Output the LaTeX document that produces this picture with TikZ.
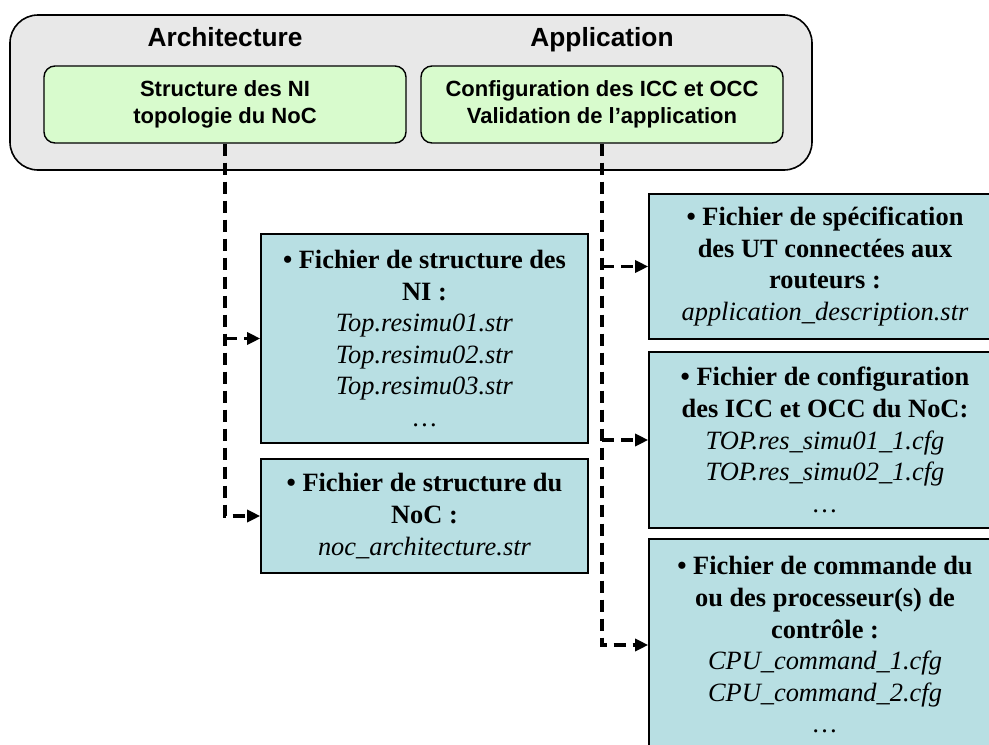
\documentclass[tikz,border=0pt]{standalone}
\usepackage{fontspec}
\setmainfont{Liberation Serif}
\setsansfont{Liberation Sans}
\usetikzlibrary{arrows.meta}
\definecolor{outergray}{RGB}{232,232,232}
\definecolor{greenfill}{RGB}{216,251,205}
\definecolor{bluefill}{RGB}{184,223,227}
\tikzset{
  outerbox/.style={draw=black, line width=1.6pt, fill=outergray, rounded corners=28pt},
  greenbox/.style={draw=black, line width=1.4pt, fill=greenfill, rounded corners=11pt,
    inner sep=0pt, align=center, font=\sffamily\bfseries\fontsize{22}{27}\selectfont},
  headtext/.style={inner sep=0pt, anchor=base, font=\sffamily\bfseries\fontsize{26.3}{31}\selectfont},
  bluebox/.style={draw=black, line width=1.6pt, fill=bluefill, inner sep=0pt,
    align=center, font=\bfseries\fontsize{26.4}{31.6}\selectfont},
  dl/.style={line width=3.2pt, dash pattern=on 12pt off 7pt},
  darr/.style={dl, -{Triangle[length=13pt,width=12pt]}}
}
\begin{document}
\begin{tikzpicture}[x=1pt,y=-1pt]
\path[use as bounding box] (0,0) rectangle (989,745);
\clip (0,0) rectangle (989,745);
% outer container
\node[outerbox, minimum width=802pt, minimum height=155pt, inner sep=0pt] (outer) at (411,92.5) {};
\node[headtext] (harch) at (225,46.5) {Architecture};
\node[headtext] (happ) at (602,46.5) {Application};
\node[greenbox, minimum width=362pt, minimum height=77pt] (g1) at (225,104.5)
  {Structure des NI\\topologie du NoC};
\node[greenbox, minimum width=362pt, minimum height=77pt] (g2) at (602,104.5)
  {Configuration des ICC et OCC\\Validation de l'application};
% left boxes
\node[bluebox, minimum width=327pt, minimum height=209pt] (ni) at (424.5,338.5)
  {• Fichier de structure des\\NI :\\\textit{\mdseries Top.resimu01.str}\\\textit{\mdseries Top.resimu02.str}\\\textit{\mdseries Top.resimu03.str}\\\mdseries …};
\node[bluebox, minimum width=327pt, minimum height=114pt] (noc) at (424.5,516)
  {• Fichier de structure du\\NoC :\\\textit{\mdseries noc\_architecture.str}};
% right boxes
\node[bluebox, minimum width=352pt, minimum height=145pt] (spec) at (825,266.5)
  {• Fichier de spécification\\des UT connectées aux\\routeurs :\\\textit{\mdseries application\_description.str}};
\node[bluebox, minimum width=352pt, minimum height=176pt] (cfg) at (825,440)
  {• Fichier de configuration\\des ICC et OCC du NoC:\\\textit{\mdseries TOP.res\_simu01\_1.cfg}\\\textit{\mdseries TOP.res\_simu02\_1.cfg}\\\textit{\mdseries …}};
\node[bluebox, minimum width=352pt, minimum height=212pt] (cmd) at (825,645)
  {• Fichier de commande du\\ou des processeur(s) de\\contrôle :\\\textit{\mdseries CPU\_command\_1.cfg}\\\textit{\mdseries CPU\_command\_2.cfg}\\\textit{\mdseries …}};
% connectors
\draw[darr] (g1.south) |- (noc.west);
\draw[darr] (g1.south |- ni.west) -- (ni.west);
\draw[darr] (g2.south) |- (cmd.west);
\draw[darr] (g2.south |- spec.west) -- (spec.west);
\draw[darr] (g2.south |- cfg.west) -- (cfg.west);
\end{tikzpicture}
\end{document}
